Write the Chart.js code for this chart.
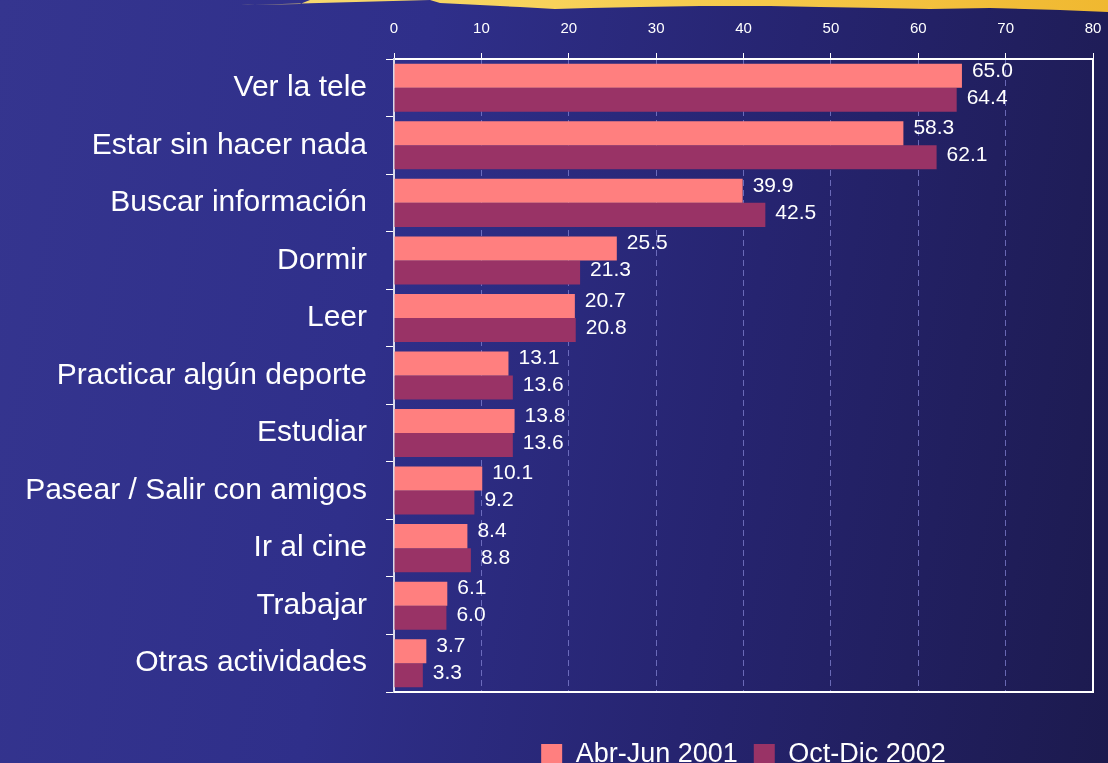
<!DOCTYPE html>
<html>
<head>
<meta charset="utf-8">
<script src="https://cdn.jsdelivr.net/npm/chart.js@4"></script>
<style>
    html, body {
        margin: 0;
        padding: 0;
        width: 1108px;
        height: 763px;
        overflow: hidden;
        background: linear-gradient(100deg, #35358f 0%, #2f2f8a 35%, #262470 65%, #1c1a4e 100%);
        font-family: "Liberation Sans", Arial, sans-serif;
    }
    #stripe {
        position: absolute;
        left: 0;
        top: 0;
        width: 1108px;
        height: 16px;
        background: linear-gradient(90deg, #f5e08a 0%, #f8d25a 50%, #f0b830 100%);
        clip-path: polygon(228px 0, 310px 0, 300px 4px, 240px 5px, 430px 0, 1108px 0, 1108px 12px,
            1060px 10px, 990px 8px, 930px 9px, 880px 8px, 820px 7px, 770px 6px, 700px 6px,
            640px 7px, 590px 8px, 555px 9px, 520px 7px, 480px 5px, 440px 3px, 430px 0);
    }
    #wrap {
        position: absolute;
        left: 0;
        top: 0;
        width: 1108px;
        height: 778px;
    }
</style>
</head>
<body>
<div id="stripe"></div>
<div id="wrap"><canvas id="activityChart"></canvas></div>
<script>
    const categories = [
        'Ver la tele',
        'Estar sin hacer nada',
        'Buscar información',
        'Dormir',
        'Leer',
        'Practicar algún deporte',
        'Estudiar',
        'Pasear / Salir con amigos',
        'Ir al cine',
        'Trabajar',
        'Otras actividades'
    ];
    const seriesNames = ['Abr-Jun 2001', 'Oct-Dic 2002'];
    const values2001 = [65.0, 58.3, 39.9, 25.5, 20.7, 13.1, 13.8, 10.1, 8.4, 6.1, 3.7];
    const values2002 = [64.4, 62.1, 42.5, 21.3, 20.8, 13.6, 13.6, 9.2, 8.8, 6.0, 3.3];
    const axisMax = 80;
    const axisStep = 10;

    // value labels at the end of each bar (first series sits a bit higher)
    const barValueLabels = {
        id: 'barValueLabels',
        afterDatasetsDraw(chart) {
            const ctx = chart.ctx;
            ctx.save();
            ctx.font = '21px "Liberation Sans", Arial, sans-serif';
            ctx.fillStyle = '#ffffff';
            ctx.textAlign = 'left';
            ctx.textBaseline = 'middle';
            chart.data.datasets.forEach((ds, i) => {
                const meta = chart.getDatasetMeta(i);
                const dy = i === 0 ? -5 : -2;
                meta.data.forEach((bar, j) => {
                    ctx.fillText(ds.data[j].toFixed(1), bar.x + 10, bar.y + dy);
                });
            });
            ctx.restore();
        }
    };

    // white frame on the right and bottom of the plot area
    const plotFrame = {
        id: 'plotFrame',
        afterDraw(chart) {
            const a = chart.chartArea;
            const ctx = chart.ctx;
            ctx.save();
            ctx.strokeStyle = '#ffffff';
            ctx.lineWidth = 2;
            ctx.beginPath();
            ctx.moveTo(a.right, a.top);
            ctx.lineTo(a.right, a.bottom);
            ctx.lineTo(a.left, a.bottom);
            ctx.stroke();
            ctx.restore();
        }
    };

    const ctx = document.getElementById('activityChart').getContext('2d');

    const activityChart = new Chart(ctx, {
        type: 'bar',
        data: {
            labels: categories,
            datasets: [{
                label: seriesNames[0],
                data: values2001,
                backgroundColor: '#ff7f7f',
                borderWidth: 0
            }, {
                label: seriesNames[1],
                data: values2002,
                backgroundColor: '#993366',
                borderWidth: 0
            }]
        },
        options: {
            indexAxis: 'y',
            responsive: true,
            maintainAspectRatio: false,
            animation: false,
            categoryPercentage: 0.835,
            barPercentage: 1,
            layout: {
                padding: { top: 0, right: 15, bottom: 0, left: 0 }
            },
            scales: {
                x: {
                    position: 'top',
                    min: 0,
                    max: axisMax,
                    afterFit(scale) {
                        scale.height = 59;
                        scale.paddingRight = 0;
                        scale.paddingLeft = 0;
                    },
                    ticks: {
                        stepSize: axisStep,
                        color: '#ffffff',
                        padding: 15,
                        font: { family: '"Liberation Sans", Arial, sans-serif', size: 15 }
                    },
                    grid: {
                        color: 'rgba(130, 130, 210, 0.75)',
                        lineWidth: 1,
                        tickColor: '#ffffff',
                        tickLength: 6,
                        tickBorderDash: []
                    },
                    border: {
                        color: '#ffffff',
                        width: 2,
                        dash: [6, 4]
                    }
                },
                y: {
                    afterFit(scale) { scale.width = 394; },
                    ticks: {
                        color: '#ffffff',
                        padding: 19,
                        font: { family: '"Liberation Sans", Arial, sans-serif', size: 30 }
                    },
                    grid: {
                        offset: true,
                        drawOnChartArea: false,
                        color: '#ffffff',
                        tickLength: 8
                    },
                    border: {
                        color: '#d8d8e8',
                        width: 2
                    }
                }
            },
            plugins: {
                legend: {
                    position: 'bottom',
                    fullSize: false,
                    title: {
                        display: true,
                        text: '',
                        padding: { top: 23, bottom: 0 },
                        font: { size: 10, lineHeight: 1 }
                    },
                    labels: {
                        color: '#ffffff',
                        boxWidth: 21,
                        boxHeight: 21,
                        padding: 16,
                        font: { family: '"Liberation Sans", Arial, sans-serif', size: 27 }
                    }
                },
                tooltip: { enabled: false }
            }
        },
        plugins: [barValueLabels, plotFrame]
    });
</script>
</body>
</html>
